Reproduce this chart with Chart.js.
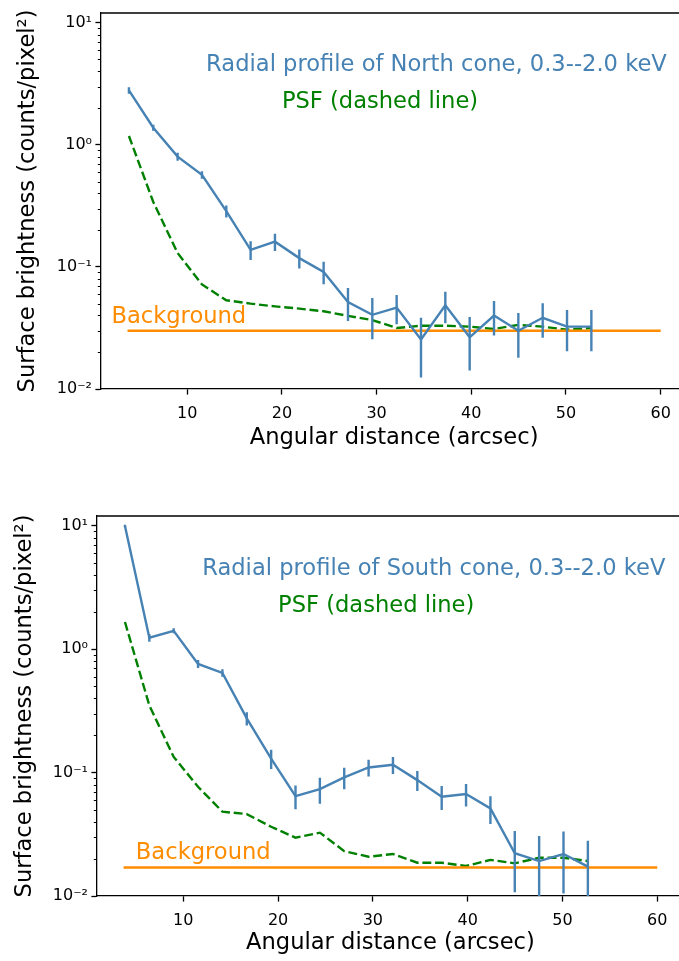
<!DOCTYPE html>
<html><head><meta charset="utf-8">
<script src="https://cdn.jsdelivr.net/npm/chart.js@4.4.1/dist/chart.umd.min.js"></script>
<style>
html,body{margin:0;padding:0;background:#fff;overflow:hidden;width:679px;height:961px;}
.box{position:absolute;left:0;}
</style></head><body>
<div class="box" style="top:0"><canvas id="north" width="692" height="480"></canvas></div>
<div class="box" style="top:480px"><canvas id="south" width="692" height="481"></canvas></div>
<script>
// ---- data ----
const radii = [3.85, 6.42, 8.99, 11.56, 14.13, 16.70, 19.27, 21.84, 24.41, 26.98, 29.55, 32.12, 34.69, 37.26, 39.83, 42.40, 44.97, 47.54, 50.11, 52.68];

const northSB  = [2.79, 1.38, 0.80, 0.567, 0.286, 0.138, 0.161, 0.118, 0.091, 0.0516, 0.0405, 0.0464, 0.0254, 0.0485, 0.0265, 0.040, 0.030, 0.0383, 0.0324, 0.0324];
const northErr = [0.17, 0.08, 0.06, 0.04, 0.032, 0.024, 0.026, 0.021, 0.019, 0.0155, 0.015, 0.0125, 0.013, 0.014, 0.0123, 0.0126, 0.012, 0.012, 0.012, 0.012];
const northPSF = [1.18, 0.34, 0.13, 0.0718, 0.0533, 0.050, 0.0475, 0.0455, 0.0433, 0.0397, 0.0367, 0.0316, 0.0330, 0.0330, 0.0324, 0.0310, 0.0335, 0.0324, 0.0306, 0.0315];
const northBG  = 0.030;

const southSB  = [9.96, 1.24, 1.41, 0.76, 0.643, 0.275, 0.130, 0.0645, 0.0735, 0.0914, 0.110, 0.1156, 0.0869, 0.0637, 0.067, 0.0513, 0.0222, 0.0192, 0.0219, 0.0173];
const southErr = [0.25, 0.09, 0.065, 0.056, 0.044, 0.034, 0.023, 0.014, 0.0175, 0.018, 0.017, 0.018, 0.016, 0.014, 0.014, 0.013, 0.0115, 0.0114, 0.0114, 0.0107];
const southPSF = [1.66, 0.35, 0.134, 0.0767, 0.0482, 0.0461, 0.0364, 0.0297, 0.0326, 0.0231, 0.0208, 0.0219, 0.0186, 0.0186, 0.0175, 0.0196, 0.0184, 0.0204, 0.0204, 0.0192];
const southBG  = 0.017;

const bgRange = [3.7, 60];

const xTickValues = [10, 20, 30, 40, 50, 60];
const xTickLabels = ['10', '20', '30', '40', '50', '60'];
const yTickValues = [0.01, 0.1, 1, 10];
const yTickLabels = ['10\u207B\u00B2', '10\u207B\u00B9', '10\u2070', '10\u00B9'];
const yMinorMultipliers = [2, 3, 4, 5, 6, 7, 8, 9];

const xTitle = 'Angular distance (arcsec)';
const yTitle = 'Surface brightness (counts/pixel\u00B2)';
const northNotes = ['Radial profile of North cone, 0.3--2.0 keV', 'PSF (dashed line)', 'Background'];
const southNotes = ['Radial profile of South cone, 0.3--2.0 keV', 'PSF (dashed line)', 'Background'];

// ---- styling / layout ----
const FONT = 'DejaVu Sans';
const BLUE = '#4682b4', GREEN = '#008000', ORANGE = '#ff8c00';
const LW = 2.4;

const decor = {
  id: 'decor',
  afterDatasetsDraw(chart) {
    const {ctx, chartArea: a, scales: {x, y}} = chart;
    ctx.save();
    ctx.beginPath(); ctx.rect(a.left, a.top, a.right - a.left, a.bottom - a.top); ctx.clip();
    chart.data.datasets.forEach(ds => {
      if (!ds.errors) return;
      ctx.strokeStyle = ds.borderColor; ctx.lineWidth = ds.borderWidth; ctx.lineCap = 'butt';
      ds.data.forEach((p, i) => {
        const e = ds.errors[i];
        const px = x.getPixelForValue(p.x);
        const lo = p.y - e;
        const y1 = y.getPixelForValue(p.y + e);
        const y0 = lo > 0 ? Math.min(y.getPixelForValue(lo), a.bottom + 10) : a.bottom + 10;
        ctx.beginPath(); ctx.moveTo(px, y0); ctx.lineTo(px, y1); ctx.stroke();
      });
    });
    ctx.restore();
  },
  afterDraw(chart, args, opts) {
    const {ctx, chartArea: a, scales: {x, y}} = chart;
    ctx.save();
    // top & right spines
    ctx.strokeStyle = '#000'; ctx.lineWidth = 1.3;
    ctx.beginPath();
    ctx.moveTo(a.left - 0.65, a.top); ctx.lineTo(a.right, a.top); ctx.lineTo(a.right, a.bottom);
    ctx.stroke();
    // minor y ticks
    ctx.lineWidth = 1;
    yTickValues.forEach(d => {
      yMinorMultipliers.forEach(m => {
        const v = d * m;
        if (v < y.min || v > y.max) return;
        const py = Math.round(y.getPixelForValue(v)) + 0.5;
        ctx.beginPath(); ctx.moveTo(a.left, py); ctx.lineTo(a.left - 3.2, py); ctx.stroke();
      });
    });
    // annotations (anchored in data coordinates)
    ctx.font = '22.6px "' + FONT + '"';
    ctx.textAlign = 'left'; ctx.textBaseline = 'alphabetic';
    (opts.notes || []).forEach(n => {
      ctx.fillStyle = n.color;
      ctx.fillText(n.text, x.getPixelForValue(n.x), y.getPixelForValue(n.y));
    });
    ctx.restore();
  }
};

function makeChart(id, sb, err, psf, bg, notes, noteAnchors, L) {
  const canvas = document.getElementById(id);
  const H = canvas.height;
  return new Chart(canvas, {
    type: 'line',
    data: {
      datasets: [
        { data: radii.map((r, i) => ({x: r, y: sb[i]})), errors: err,
          borderColor: BLUE, borderWidth: LW, pointRadius: 0, tension: 0, fill: false },
        { data: bgRange.map(r => ({x: r, y: bg})),
          borderColor: ORANGE, borderWidth: LW, pointRadius: 0, fill: false },
        { data: radii.map((r, i) => ({x: r, y: psf[i]})),
          borderColor: GREEN, borderWidth: LW, borderDash: [8.9, 3.8], pointRadius: 0, tension: 0, fill: false }
      ]
    },
    options: {
      responsive: false, animation: false, devicePixelRatio: 1,
      layout: { padding: { left: 0, top: L.top, right: L.right, bottom: 0 } },
      plugins: {
        legend: { display: false }, tooltip: { enabled: false },
        decor: { notes: notes.map((t, i) => ({text: t, x: noteAnchors[i][0], y: noteAnchors[i][1],
                 color: [BLUE, GREEN, ORANGE][i]})) }
      },
      scales: {
        x: {
          type: 'linear', min: 0.9, max: 62.8,
          afterBuildTicks: s => { s.ticks = xTickValues.map(v => ({value: v})); },
          afterFit: s => { s.height = H - L.bottom; },
          ticks: { autoSkip: false, maxRotation: 0, padding: 10, color: '#000',
                   font: {family: FONT, size: 16},
                   callback: v => { const i = xTickValues.indexOf(v); return i >= 0 ? xTickLabels[i] : ''; } },
          grid: { display: true, drawOnChartArea: false, drawTicks: true, tickLength: 5.6, tickWidth: 1.3, tickColor: '#000' },
          border: { display: true, color: '#000', width: 1.3 },
          title: { display: true, text: xTitle, color: '#000', font: {family: FONT, size: 22.6},
                   padding: { top: 0, bottom: L.xTitlePad } }
        },
        y: {
          type: 'logarithmic', min: 0.01, max: 12,
          afterBuildTicks: s => { s.ticks = yTickValues.map(v => ({value: v, major: true})); },
          afterFit: s => { s.width = L.left; },
          ticks: { autoSkip: false, padding: 3.4, color: '#000', font: {family: FONT, size: 16},
                   callback: v => { const i = yTickValues.indexOf(v); return i >= 0 ? yTickLabels[i] : ''; } },
          grid: { display: true, drawOnChartArea: false, drawTicks: true, tickLength: 5.6, tickWidth: 1.3, tickColor: '#000' },
          border: { display: true, color: '#000', width: 1.3 },
          title: { display: true, text: yTitle, color: '#000', font: {family: FONT, size: 22.6},
                   padding: { top: L.yTitlePad, bottom: 0 } }
        }
      }
    },
    plugins: [decor]
  });
}

makeChart('north', northSB, northErr, northPSF, northBG, northNotes,
  [[12, 4], [20, 2], [2, 0.035]],
  { top: 9, bottom: 389, left: 101, right: 4.8, xTitlePad: 28, yTitlePad: 14.4 });
makeChart('south', southSB, southErr, southPSF, southBG, southNotes,
  [[12, 4], [20, 2], [5, 0.02]],
  { top: 36, bottom: 416, left: 97, right: 8.2, xTitlePad: 4, yTitlePad: 12 });
</script>
</body></html>
